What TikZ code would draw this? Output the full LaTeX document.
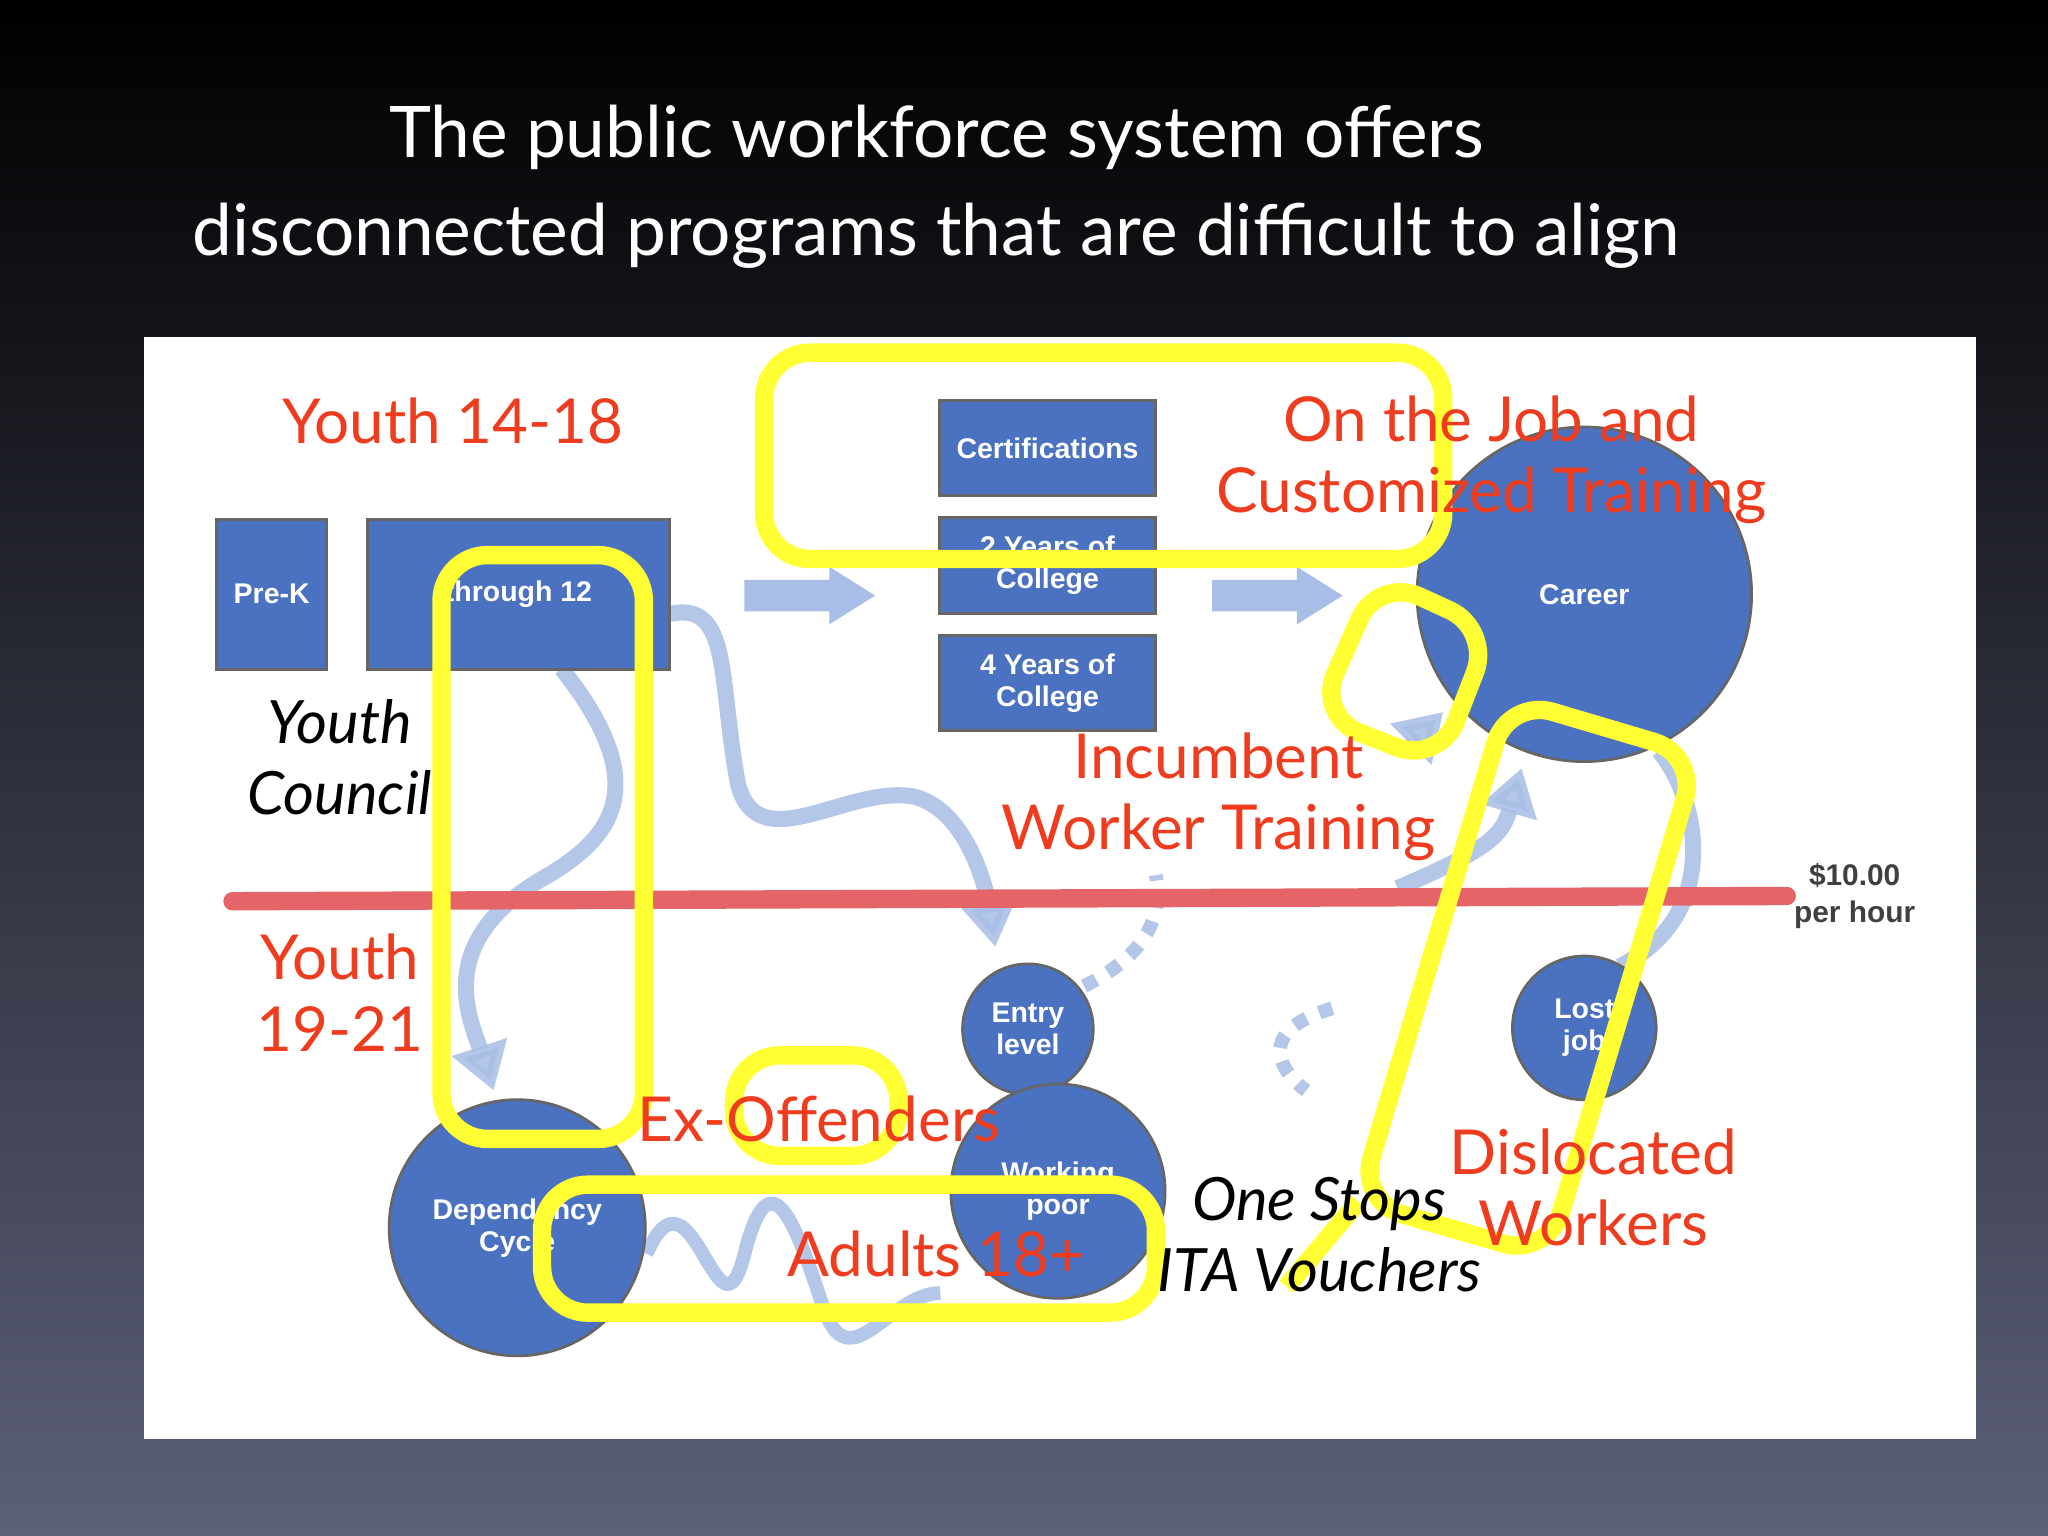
\documentclass[tikz,border=0pt]{standalone}
\usepackage{fontspec}
\setmainfont{Lato}
\newfontfamily\boxf{Liberation Sans}
\usetikzlibrary{arrows.meta}
\definecolor{bgtop}{HTML}{000000}
\definecolor{bgbot}{HTML}{5C6078}
\definecolor{pblue}{HTML}{4A72C0}
\definecolor{fblue}{HTML}{A9BEE6}
\definecolor{rtxt}{HTML}{F03C1E}
\definecolor{ylw}{HTML}{FFFF33}
\definecolor{rline}{HTML}{E46468}
\begin{document}
\begin{tikzpicture}[x=0.01cm,y=-0.01cm,
  bx/.style={draw=black!60,fill=pblue,line width=0.6pt,text=white,font=\boxf\bfseries\fontsize{6.2}{7}\selectfont,align=center,inner sep=0,minimum width=1.65cm,minimum height=0.73cm},
  cc/.style={circle,draw=black!60,fill=pblue,line width=0.6pt,text=white,font=\boxf\bfseries\fontsize{6.2}{7}\selectfont,align=center,inner sep=0},
  red/.style={text=rtxt,font=\fontsize{13.5}{15.5}\selectfont,align=center},
  blk/.style={text=black,font=\itshape\fontsize{13}{15.5}\selectfont,align=center},
  yb/.style={draw=ylw,line width=4pt,rounded corners=10pt},
  fa/.style={draw=fblue,line width=3.5pt,-{Triangle[length=10pt,width=12pt]},opacity=0.85},
  fd/.style={draw=fblue,line width=3pt,dashed,opacity=0.85}]
\shade[top color=bgtop,bottom color=bgbot] (0,0) rectangle (1568,1176);
\useasboundingbox (0,0) rectangle (1568,1176);
\node[text=white,font=\fontsize{15.5}{21.5}\selectfont,align=center] (title) at (717,143) {The public workforce system offers\\disconnected programs that are difficult to align};
\fill[white] (110,258) rectangle (1513,1102);
% faint arrows
\draw[fa] (430,512) .. controls (500,600) and (470,640) .. (420,670) .. controls (330,720) and (360,780) .. (378,835);
\draw[fa] (513,470) .. controls (560,460) and (550,520) .. (565,600) .. controls (580,660) and (650,600) .. (700,610) .. controls (740,620) and (755,680) .. (762,725);
\draw[fa] (1080,570) -- (1105,545);
\draw[fa] (1070,680) .. controls (1140,650) and (1150,640) .. (1165,588);
\draw[fd] (830,755) .. controls (880,730) and (890,700) .. (885,670);
\draw[fd] (1020,772) .. controls (960,790) and (980,820) .. (1000,835);
\draw[draw=fblue,line width=3.5pt,opacity=0.85] (1240,740) .. controls (1320,700) and (1300,610) .. (1270,575);
\draw[draw=fblue,line width=3pt,opacity=0.85] (495,960) .. controls (530,880) and (550,1040) .. (570,960) .. controls (590,880) and (610,940) .. (630,1000) .. controls (650,1060) and (680,990) .. (720,990);
\fill[fblue] (570,444) -- (635,444) -- (635,434) -- (670,456) -- (635,478) -- (635,468) -- (570,468) -- cycle;
\fill[fblue] (928,444) -- (993,444) -- (993,434) -- (1028,456) -- (993,478) -- (993,468) -- (928,468) -- cycle;
% red line
\draw[rline,line width=4pt,line cap=round] (178,690) -- (1368,686);
\node[font=\boxf\bfseries\fontsize{6.5}{8}\selectfont,text=black!75,align=center] (wage) at (1420,686) {\$10.00\\per hour};
% boxes
\node[bx,minimum width=0.84cm,minimum height=1.15cm] (prek) at (208,455) {Pre-K};
\node[bx,minimum width=2.31cm,minimum height=1.15cm] (k12) at (397,455) {through 12};
\node[bx] (cert) at (802,343) {Certifications};
\node[bx] (c2) at (802,433) {2 Years of\\College};
\node[bx] (c4) at (802,523) {4 Years of\\College};
\node[cc,minimum size=2.56cm] (career) at (1213,455) {Career};
\node[cc,minimum size=1.0cm] (entry) at (787,788) {Entry\\level};
\node[cc,minimum size=1.64cm] (wp) at (810,912) {Working\\poor};
\node[cc,minimum size=1.1cm] (lost) at (1213,787) {Lost\\job};
\node[cc,minimum size=1.96cm] (dep) at (396,940) {Dependency\\Cycle};
% yellow
\draw[yb] (585,270) rectangle (1105,428);
\draw[yb] (338,425) rectangle (493,872);
\draw[yb] (562,808) rectangle (688,885);
\draw[yb] (415,907) rectangle (885,1005);
\draw[yb] (1055,442) -- (1142,482) -- (1102,585) -- (1008,548) -- cycle;
\draw[yb] (1155,535) -- (1300,578) -- (1185,962) -- (1040,920) -- cycle;
\draw[draw=ylw,line width=4pt] (1040,920) -- (985,985);
% texts
\node[red] (y1418) at (347,322) {Youth 14-18};
\node[red] (ojt) at (1142,352) {On the Job and\\Customized Training};
\node[red] (iwt) at (933,610) {Incumbent\\Worker Training};
\node[red] (y1921) at (260,760) {Youth\\19-21};
\node[red] (exo) at (627,857) {Ex-Offenders};
\node[red] (ad) at (717,960) {Adults 18+};
\node[red] (dw) at (1220,909) {Dislocated\\Workers};
\node[blk] (yc) at (260,580) {Youth\\Council};
\node[blk] (os) at (1010,945) {One Stops\\ITA Vouchers};
\end{tikzpicture}
\end{document}
